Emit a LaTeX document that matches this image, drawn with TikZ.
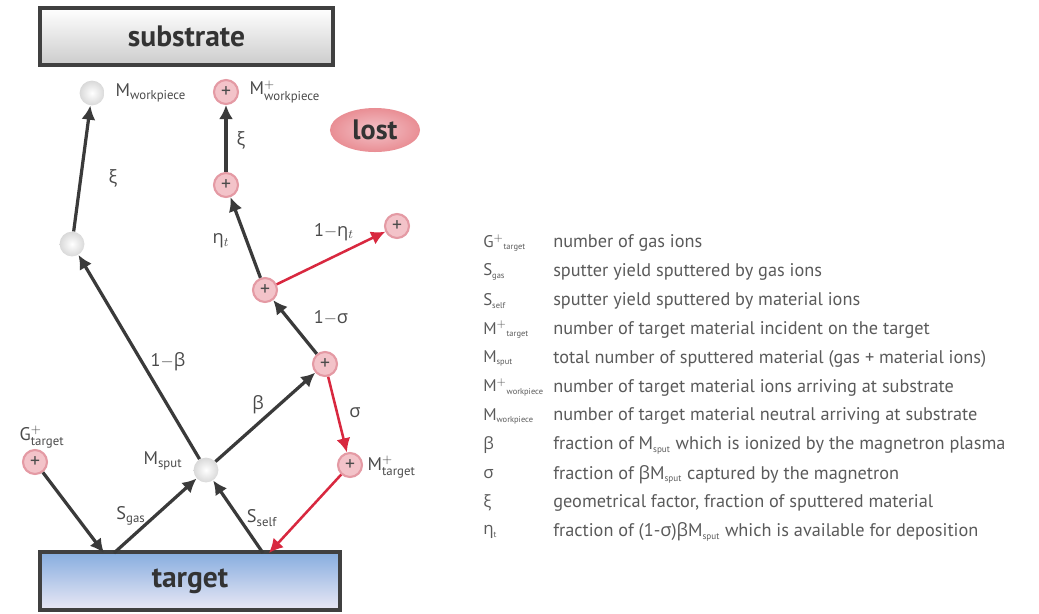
\documentclass[tikz,border=0pt]{standalone}
\usepackage{fontspec}
\usepackage{amsmath}
\setmainfont{PT Sans}
\newfontfamily\grk{Open Sans}
\usetikzlibrary{arrows.meta,shapes.geometric}

\definecolor{arrgray}{HTML}{3A3A3A}
\definecolor{arrred}{HTML}{D8283F}
\definecolor{ionfill}{HTML}{F3C3C9}
\definecolor{ionring}{HTML}{E49AA4}
\definecolor{lostfill}{HTML}{E98E94}
\definecolor{txtgray}{HTML}{4A4A4A}
\definecolor{legtxt}{HTML}{5A5A5A}
\definecolor{tgtop}{HTML}{86ADDF}
\definecolor{tgbot}{HTML}{EAE8F5}

% tiny subscript as in the legend
\newcommand{\lsub}[1]{$_{\scriptscriptstyle\text{#1}}$}

\tikzset{
    ion/.style={circle, draw=ionring, line width=1.5pt, fill=ionfill, minimum size=0.6cm,
        inner sep=0pt, font=\fontsize{14}{14}\selectfont, text=black!70},
    neutral/.style={circle, inner color=white, outer color=gray!30, minimum size=0.62cm, inner sep=0pt},
    flow/.style={-{Latex[length=10pt,width=10pt]}, draw=arrgray, line width=2.3pt},
    lossflow/.style={-{Latex[length=10pt,width=10pt]}, draw=arrred, line width=1.8pt},
    lbl/.style={text=txtgray, font=\fontsize{13}{15}\selectfont, inner sep=1pt},
    bigbox/.style={draw=black!75, line width=2.2pt, text=black!80, font=\fontsize{21}{24}\selectfont\bfseries},
    sym/.style={anchor=west, text=legtxt, font=\fontsize{12}{14}\selectfont, inner sep=0pt},
    desc/.style={anchor=west, text=legtxt, font=\fontsize{13}{15}\selectfont, inner sep=0pt}
}

\begin{document}
\begin{tikzpicture}[x=0.025cm, y=-0.025cm]
\useasboundingbox (0,0) rectangle (1039,613);

% boxes
\node[bigbox, top color=white, bottom color=gray!40, minimum width=7.325cm, minimum height=1.425cm]
    (substrate) at (186.5,36.5) {substrate};
\node[bigbox, top color=tgtop, bottom color=tgbot, minimum width=7.5cm, minimum height=1.45cm]
    (target) at (190,581) {target};
\node[ellipse, inner color=ionfill, outer color=lostfill, minimum width=2.25cm,
    minimum height=1.1cm, inner sep=0pt, text=black!80, font=\fontsize{20}{24}\selectfont\bfseries]
    (lost) at (375,130) {lost};

% particles
\node[neutral] (mwp) at (92,93) {};
\node[ion] (mwpi) at (226,92) {+};
\node[neutral] (n1) at (72,244) {};
\node[ion] (i1) at (226,185) {+};
\node[ion] (i2) at (265,290) {+};
\node[ion] (ilost) at (397,226) {+};
\node[ion] (i3) at (325,364) {+};
\node[neutral] (msput) at (206,470) {};
\node[ion] (mtar) at (350,465) {+};
\node[ion] (gtar) at (35,462) {+};

\coordinate (tgA) at (104,553);
\coordinate (tgB) at (114,553);
\coordinate (tgC) at (263,553);
\coordinate (tgD) at (269,553);

% arrows
\draw[flow] (n1) -- (mwp);
\draw[flow] (i1) -- (mwpi);
\draw[flow] (i2) -- (i1);
\draw[lossflow] (i2) -- (ilost);
\draw[flow] (i3) -- (i2);
\draw[flow] (msput) -- (i3);
\draw[flow] (msput) -- (n1);
\draw[lossflow] (i3) -- (mtar);
\draw[lossflow] (mtar) -- (tgD);
\draw[flow] (gtar) -- (tgA);
\draw[flow] (tgB) -- (msput);
\draw[flow] (tgC) -- (msput);

% labels
\path (114,93) node[lbl, anchor=west] (lmwp) {M$_{\text{workpiece}}$};
\path (248,92) node[lbl, anchor=west] (lmwpi) {M$^{+}_{\text{workpiece}}$};
\path (113,178) node[lbl] (lxi1) {{\grk ξ}};
\path (241,140) node[lbl] (lxi2) {{\grk ξ}};
\path (221,241) node[lbl] (leta) {{\grk η}$_{t}$};
\path (334,232) node[lbl] (lnoeta) {1$-${\grk η}$_{t}$};
\path (331,318) node[lbl] (lnosig) {1$-${\grk σ}};
\path (258,405) node[lbl] (lbeta) {{\grk β}};
\path (168,362) node[lbl] (lnobeta) {1$-${\grk β}};
\path (355,413) node[lbl] (lsig) {{\grk σ}};
\path (366,467) node[lbl, anchor=west] (lmtar) {M$^{+}_{\text{target}}$};
\path (163,461) node[lbl] (lmsput) {M$_{\text{sput}}$};
\path (42,437) node[lbl] (lgtar) {G$^{+}_{\text{target}}$};
\path (131,516) node[lbl] (lsgas) {S$_{\text{gas}}$};
\path (262,518) node[lbl] (lsself) {S$_{\text{self}}$};

% legend
\foreach \s/\d [count=\i from 0] in {
    {G$^{+}$\lsub{target}}/{number of gas ions},
    {S\lsub{gas}}/{sputter yield sputtered by gas ions},
    {S\lsub{self}}/{sputter yield sputtered by material ions},
    {M$^{+}$\lsub{target}}/{number of target material incident on the target},
    {M\lsub{sput}}/{total number of sputtered material (gas + material ions)},
    {M$^{+}$\lsub{workpiece}}/{number of target material ions arriving at substrate},
    {M\lsub{workpiece}}/{number of target material neutral arriving at substrate},
    {{\grk β}}/{fraction of M\lsub{sput} which is ionized by the magnetron plasma},
    {{\grk σ}}/{fraction of {\grk β}M\lsub{sput} captured by the magnetron},
    {{\grk ξ}}/{geometrical factor, fraction of sputtered material},
    {{\grk η}\lsub{t}}/{fraction of (1-{\grk σ}){\grk β}M\lsub{sput} which is available for deposition}}
{
    \path (483,{243+28.9*\i}) node[sym] (sym\i) {\s};
    \path (553,{243+28.9*\i}) node[desc] (desc\i) {\d};
}

\end{tikzpicture}
\end{document}
